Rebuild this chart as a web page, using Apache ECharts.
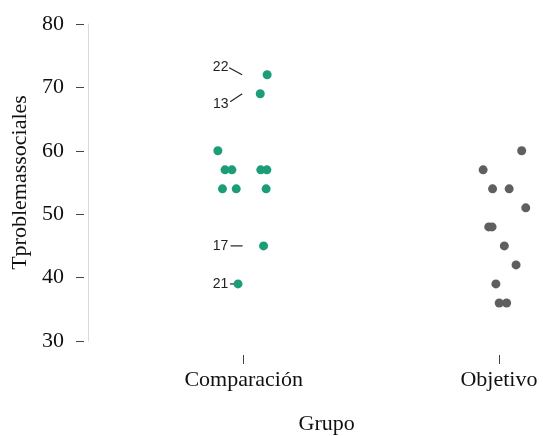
<!DOCTYPE html>
<html>
<head>
<meta charset="utf-8">
<script src="https://cdn.jsdelivr.net/npm/echarts@6/dist/echarts.min.js"></script>
<style>
  html, body { margin: 0; padding: 0; background: #ffffff; }
  #chart { width: 543px; height: 436px; }
</style>
</head>
<body>
<div id="chart"></div>
<script>
// Groups on the horizontal axis
const groups = ['Comparación', 'Objetivo'];

// T-scores per participant, Comparación group
const comparacionValues = [72, 69, 60, 57, 57, 57, 57, 54, 54, 54, 45, 39];
// horizontal jitter (fraction of the group spacing)
const comparacionJitter = [0.092, 0.065, -0.101, -0.073, -0.046, 0.067, 0.091, -0.083, -0.029, 0.088, 0.078, -0.022];
// participant ids flagged as outliers (same order as values, '' = none)
const comparacionIds = ['22', '13', '', '', '', '', '', '', '', '', '17', '21'];

// T-scores per participant, Objetivo group
const objetivoValues = [60, 57, 54, 54, 51, 48, 48, 45, 42, 39, 36, 36];
const objetivoJitter = [0.089, -0.062, -0.025, 0.040, 0.105, -0.040, -0.027, 0.021, 0.067, -0.012, 0.001, 0.030];

// Y-axis ticks
const yTicks = [30, 40, 50, 60, 70, 80];

const serif = 'Liberation Serif, Times New Roman, serif';

function points(values, jitter, groupIndex) {
  return values.map((v, i) => [groupIndex + 1 + jitter[i], v]);
}

const labelled = [];
comparacionIds.forEach((id, i) => {
  if (id) labelled.push([1 + comparacionJitter[i], comparacionValues[i], id]);
});

// label text offset and leader segment (pixels, relative to the point)
const labelPlacement = {
  '22': { tx: -46.5, ty: -8, x1: -38, y1: -7, x2: -25, y2: 0 },
  '13': { tx: -39.5, ty: 10, x1: -30, y1: 8, x2: -18, y2: 0 },
  '17': { tx: -43, ty: 0, x1: -33, y1: 0, x2: -21, y2: 0 },
  '21': { tx: -17.5, ty: 0, x1: -8, y1: 0, x2: 0, y2: 0 }
};

const chart = echarts.init(document.getElementById('chart'), null, { renderer: 'canvas' });

chart.setOption({
  backgroundColor: '#ffffff',
  animation: false,
  grid: { left: 116, right: 5.75, top: 24, bottom: 95, containLabel: false, outerBoundsMode: 'none' },
  xAxis: {
    type: 'value',
    min: 0.5,
    max: 2.15,
    offset: 14,
    splitLine: { show: false },
    axisLine: { show: false },
    axisTick: {
      show: true,
      customValues: [1, 2],
      length: 9,
      lineStyle: { color: '#444', width: 1 }
    },
    axisLabel: {
      customValues: [1, 2],
      formatter: v => groups[Math.round(v) - 1] || '',
      fontFamily: serif,
      fontSize: 22,
      color: '#111',
      margin: 14
    },
    name: 'Grupo',
    nameLocation: 'middle',
    nameGap: 58,
    nameTextStyle: { fontFamily: serif, fontSize: 22, color: '#111' }
  },
  yAxis: [
    {
      type: 'value',
      position: 'left',
      min: 30,
      max: 80,
      interval: 10,
      offset: 32,
      splitLine: { show: false },
      axisLine: { show: false },
      axisTick: { show: true, length: 8, lineStyle: { color: '#444', width: 1 } },
      axisLabel: {
        customValues: yTicks,
        fontFamily: serif,
        fontSize: 22,
        color: '#111',
        margin: 20
      },
      name: 'Tproblemassociales',
      nameLocation: 'middle',
      nameGap: 52,
      nameTextStyle: { fontFamily: serif, fontSize: 22, color: '#111' }
    },
    {
      type: 'value',
      position: 'left',
      min: 30,
      max: 80,
      interval: 10,
      offset: 28,
      splitLine: { show: false },
      axisLine: { show: true, lineStyle: { color: '#d9d9d9', width: 1 } },
      axisTick: { show: false },
      axisLabel: { show: false }
    }
  ],
  series: [
    {
      type: 'custom',
      name: 'ids',
      z: 1,
      data: labelled,
      renderItem: function (params, api) {
        const p = api.coord([api.value(0), api.value(1)]);
        const id = String(labelled[params.dataIndex][2]);
        const o = labelPlacement[id];
        return {
          type: 'group',
          children: [
            {
              type: 'line',
              shape: { x1: p[0] + o.x1, y1: p[1] + o.y1, x2: p[0] + o.x2, y2: p[1] + o.y2 },
              style: { stroke: '#222', lineWidth: 1.2 }
            },
            {
              type: 'text',
              x: p[0] + o.tx,
              y: p[1] + o.ty,
              style: {
                text: id,
                fontFamily: 'Liberation Sans, Arial, sans-serif',
                fontSize: 14,
                fill: '#222',
                align: 'center',
                verticalAlign: 'middle'
              }
            }
          ]
        };
      }
    },
    {
      type: 'scatter',
      name: groups[0],
      z: 2,
      symbolSize: 9,
      itemStyle: { color: '#1b9e77', opacity: 1 },
      data: points(comparacionValues, comparacionJitter, 0)
    },
    {
      type: 'scatter',
      name: groups[1],
      z: 2,
      symbolSize: 9,
      itemStyle: { color: '#5f5f5f', opacity: 1 },
      data: points(objetivoValues, objetivoJitter, 1)
    }
  ]
});
</script>
</body>
</html>
